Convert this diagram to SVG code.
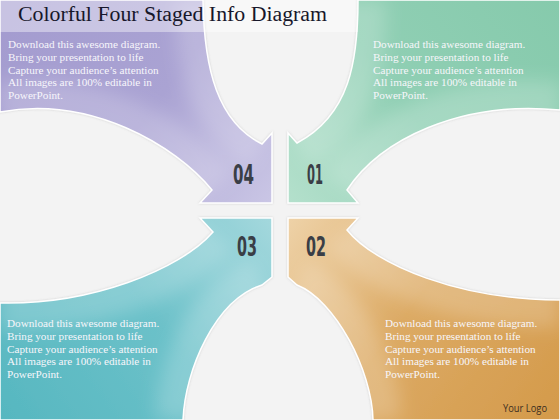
<svg xmlns="http://www.w3.org/2000/svg" width="560" height="420" viewBox="0 0 560 420">
  <defs>
    <style>
      .body { font-family: "Liberation Serif", "DejaVu Serif", serif; font-size: 11.2px; fill: #f7f6fb; }
      .num { font-family: "DejaVu Sans Condensed", "Liberation Sans Narrow", "Roboto Condensed", "Liberation Sans", sans-serif; font-weight: bold; font-size: 26px; fill: #3a3e46; }
      .band { stroke: #ffffff; stroke-width: 1.5; stroke-linejoin: miter; filter: url(#shadow); }
      .hl { fill: none; stroke: #ffffff; stroke-opacity: 0.2; stroke-width: 56; }
    </style>
    <filter id="shadow" x="-10%" y="-10%" width="120%" height="120%">
      <feDropShadow dx="0" dy="0" stdDeviation="1.2" flood-color="#7a7a7a" flood-opacity="0.3"/>
    </filter>
    <filter id="soft" x="-20%" y="-20%" width="140%" height="140%">
      <feGaussianBlur stdDeviation="9"/>
    </filter>
    <linearGradient id="gPurple" gradientUnits="userSpaceOnUse" x1="0" y1="0" x2="272" y2="203">
      <stop offset="0" stop-color="#a39bcf"/>
      <stop offset="0.55" stop-color="#aaa3d3"/>
      <stop offset="1" stop-color="#cac6e5"/>
    </linearGradient>
    <linearGradient id="gGreen" gradientUnits="userSpaceOnUse" x1="560" y1="0" x2="288" y2="203">
      <stop offset="0" stop-color="#86caac"/>
      <stop offset="0.55" stop-color="#90cfb4"/>
      <stop offset="1" stop-color="#b4e0cc"/>
    </linearGradient>
    <linearGradient id="gTeal" gradientUnits="userSpaceOnUse" x1="0" y1="420" x2="272" y2="218">
      <stop offset="0" stop-color="#56b7c0"/>
      <stop offset="0.55" stop-color="#6cc1c9"/>
      <stop offset="1" stop-color="#a4d8dd"/>
    </linearGradient>
    <linearGradient id="gOrange" gradientUnits="userSpaceOnUse" x1="560" y1="420" x2="288" y2="218">
      <stop offset="0" stop-color="#d49a4a"/>
      <stop offset="0.55" stop-color="#dcaa64"/>
      <stop offset="1" stop-color="#eed2a8"/>
    </linearGradient>
    <path id="pPurple" d="M0,0 L203,0 C204,70 218,122 262,144 L272,133 L272,203 L200,203 L212,190 C175,145 90,95 0,112 Z"/>
    <path id="pGreen" d="M560,0 L358,0 C358,60 350,115 297,143 L288,133 L288,203 L358,203 L347,190 C380,140 460,100 560,110 Z"/>
    <path id="pOrange" d="M560,420 L373,420 C372,370 335,300 297,285 L288,277 L288,218 L358,218 L347,230 C375,265 460,300 560,300 Z"/>
    <path id="pTeal" d="M0,420 L183,420 C185,370 215,300 262,285 L272,277 L272,218 L200,218 L213,232 C180,270 90,305 0,303 Z"/>
    <clipPath id="cPurple"><use href="#pPurple"/></clipPath>
    <clipPath id="cGreen"><use href="#pGreen"/></clipPath>
    <clipPath id="cOrange"><use href="#pOrange"/></clipPath>
    <clipPath id="cTeal"><use href="#pTeal"/></clipPath>
  </defs>

  <rect x="0" y="0" width="560" height="420" fill="#f3f3f3"/>

  <g id="node-04">
    <use href="#pPurple" class="band" fill="url(#gPurple)"/>
    <g clip-path="url(#cPurple)">
      <g filter="url(#soft)">
        <path class="hl" d="M203,0 C204,70 218,122 262,144"/>
        <path class="hl" d="M212,190 C175,145 90,95 0,112"/>
      </g>
    </g>
  </g>
  <g id="node-01">
    <use href="#pGreen" class="band" fill="url(#gGreen)"/>
    <g clip-path="url(#cGreen)">
      <g filter="url(#soft)">
        <path class="hl" d="M358,0 C358,60 350,115 297,143"/>
        <path class="hl" d="M347,190 C380,140 460,100 560,110"/>
      </g>
    </g>
  </g>
  <g id="node-02">
    <use href="#pOrange" class="band" fill="url(#gOrange)"/>
    <g clip-path="url(#cOrange)">
      <g filter="url(#soft)">
        <path class="hl" d="M373,420 C372,370 335,300 297,285"/>
        <path class="hl" d="M347,230 C375,265 460,300 560,300"/>
      </g>
    </g>
  </g>
  <g id="node-03">
    <use href="#pTeal" class="band" fill="url(#gTeal)"/>
    <g clip-path="url(#cTeal)">
      <g filter="url(#soft)">
        <path class="hl" d="M183,420 C185,370 215,300 262,285"/>
        <path class="hl" d="M213,232 C180,270 90,305 0,303"/>
      </g>
    </g>
  </g>

  <g id="title">
    <rect x="0" y="0" width="358" height="32" fill="#ffffff" fill-opacity="0.4"/>
    <text x="18" y="20.5" font-family="Liberation Serif, DejaVu Serif, serif" font-size="20.5" fill="#17172a" textLength="309" lengthAdjust="spacingAndGlyphs">Colorful Four Staged Info Diagram</text>
  </g>

  <g id="label-04">
    <text class="num" x="233" y="184" textLength="21" lengthAdjust="spacingAndGlyphs">04</text>
    <text class="body" x="8" y="47.7">
      <tspan x="8">Download this awesome diagram.</tspan>
      <tspan x="8" y="60.6">Bring your presentation to life</tspan>
      <tspan x="8" y="73.5">Capture your audience’s attention</tspan>
      <tspan x="8" y="86.4">All images are 100% editable in</tspan>
      <tspan x="8" y="99.3">PowerPoint.</tspan>
    </text>
  </g>
  <g id="label-01">
    <text class="num" x="307" y="184" textLength="16" lengthAdjust="spacingAndGlyphs">01</text>
    <text class="body" x="373" y="47.7">
      <tspan x="373">Download this awesome diagram.</tspan>
      <tspan x="373" y="60.6">Bring your presentation to life</tspan>
      <tspan x="373" y="73.5">Capture your audience’s attention</tspan>
      <tspan x="373" y="86.4">All images are 100% editable in</tspan>
      <tspan x="373" y="99.3">PowerPoint.</tspan>
    </text>
  </g>
  <g id="label-03">
    <text class="num" x="237" y="256" textLength="20" lengthAdjust="spacingAndGlyphs">03</text>
    <text class="body" x="7" y="326.7">
      <tspan x="7">Download this awesome diagram.</tspan>
      <tspan x="7" y="339.6">Bring your presentation to life</tspan>
      <tspan x="7" y="352.5">Capture your audience’s attention</tspan>
      <tspan x="7" y="365.4">All images are 100% editable in</tspan>
      <tspan x="7" y="378.3">PowerPoint.</tspan>
    </text>
  </g>
  <g id="label-02">
    <text class="num" x="306" y="256" textLength="20" lengthAdjust="spacingAndGlyphs">02</text>
    <text class="body" x="385" y="326.7">
      <tspan x="385">Download this awesome diagram.</tspan>
      <tspan x="385" y="339.6">Bring your presentation to life</tspan>
      <tspan x="385" y="352.5">Capture your audience’s attention</tspan>
      <tspan x="385" y="365.4">All images are 100% editable in</tspan>
      <tspan x="385" y="378.3">PowerPoint.</tspan>
    </text>
  </g>

  <text id="logo" x="503" y="412" font-family="Open Sans, Liberation Sans, sans-serif" font-size="10" fill="#3c2e1f" textLength="44" lengthAdjust="spacingAndGlyphs">Your Logo</text>
</svg>
